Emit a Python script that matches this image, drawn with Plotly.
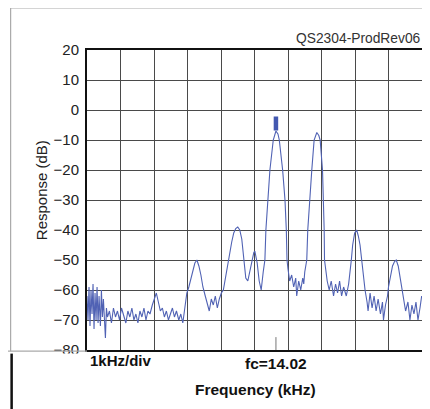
"""Spectrum plot: two-tone response around fc = 14.02 kHz, 1 kHz/div."""

import plotly.graph_objects as go

FREQ_KHZ = [
    8.38, 8.41, 8.44, 8.47, 8.50, 8.53, 8.56, 8.59, 8.62, 8.65, 8.68, 8.71,
    8.74, 8.78, 8.81, 8.84, 8.87, 8.90, 8.93, 8.96, 8.99, 9.05, 9.11, 9.17,
    9.23, 9.29, 9.35, 9.41, 9.47, 9.54, 9.60, 9.66, 9.72, 9.78, 9.84, 9.90,
    9.96, 10.02, 10.08, 10.14, 10.20, 10.26, 10.33, 10.39, 10.45, 10.51,
    10.57, 10.63, 10.69, 10.75, 10.81, 10.87, 10.93, 10.99, 11.05, 11.12,
    11.18, 11.24, 11.30, 11.36, 11.42, 11.48, 11.54, 11.60, 11.66, 11.72,
    11.78, 11.84, 11.91, 11.97, 12.03, 12.09, 12.15, 12.21, 12.27, 12.33,
    12.39, 12.45, 12.51, 12.57, 12.63, 12.70, 12.76, 12.82, 12.88, 12.94,
    13.00, 13.06, 13.12, 13.18, 13.24, 13.30, 13.36, 13.39, 13.46, 13.52,
    13.58, 13.64, 13.69, 13.72, 13.77, 13.84, 13.94, 13.97, 14.02, 14.08,
    14.12, 14.22, 14.29, 14.33, 14.35, 14.38, 14.43, 14.49, 14.55, 14.61,
    14.64, 14.70, 14.76, 14.82, 14.85, 14.88, 14.94, 14.97, 15.02, 15.09,
    15.16, 15.19, 15.24, 15.30, 15.34, 15.41, 15.44, 15.46, 15.47, 15.52,
    15.55, 15.61, 15.67, 15.74, 15.80, 15.86, 15.92, 15.98, 16.04, 16.12,
    16.19, 16.27, 16.31, 16.37, 16.43, 16.48, 16.53, 16.59, 16.63, 16.68,
    16.74, 16.77, 16.83, 16.89, 16.95, 17.01, 17.07, 17.14, 17.20, 17.23,
    17.29, 17.35, 17.38, 17.44, 17.50, 17.56, 17.61, 17.67, 17.71, 17.77,
    17.83, 17.89, 17.96, 18.02, 18.08, 18.14, 18.20, 18.26, 18.32, 18.37,
]
RESPONSE_DB = [
    -62, -70, -59, -72, -60, -68, -58, -73, -61, -70, -59, -71,
    -62, -72, -60, -69, -63, -71, -76, -66, -69, -67, -71, -66,
    -69, -67, -70, -66, -68, -71, -67, -69, -66, -70, -68, -71,
    -67, -69, -66, -70, -67, -68, -65, -63, -61, -64,
    -67, -66, -69, -67, -70, -68, -66, -69, -67, -70,
    -68, -71, -66, -61, -59, -56, -53, -51, -50, -52,
    -55, -59, -62, -65, -67, -63, -65, -62, -66, -63,
    -61, -60, -56, -52, -49, -44, -41, -39.5, -39, -40,
    -43, -50, -56, -57, -54, -50, -47.5, -47, -51, -57,
    -60, -54, -50, -40, -30, -20, -10, -8.5, -7, -8,
    -10, -20, -30, -40, -50, -53, -57, -55, -59, -56,
    -62, -57, -60, -56, -58, -54, -50, -40, -30, -20,
    -10, -8.7, -7.5, -8.5, -10, -20, -30, -40, -50, -55,
    -57, -60, -57, -62, -58, -61, -57, -62, -59, -62,
    -58, -50, -45, -41, -40, -42, -45, -51, -56, -60,
    -64, -67, -61, -66, -62, -67, -63, -68, -64, -70,
    -65, -62, -59, -55, -52, -50.5, -50, -52, -55, -59,
    -63, -67, -64, -70, -65, -68, -64, -70, -66, -62,
]

FC_KHZ = 14.02
MARKER_DB = -4.5
FC_TICK_DB = [-80, -75.7]

X_RANGE = [8.38, 18.38]
Y_TICKS = [20, 10, 0, -10, -20, -30, -40, -50, -60, -70, -80]
Y_TICK_TEXT = ["20", "10", "0", "−10", "−20", "−30", "−40", "−50", "−60", "−70", "−80"]

TRACE_BLUE = "#5062b4"
GRID = "#4a4a4a"
FONT = "Liberation Sans, Arial, sans-serif"

fig = go.Figure()
fig.add_trace(
    go.Scatter(
        x=FREQ_KHZ,
        y=RESPONSE_DB,
        mode="lines",
        line={"color": TRACE_BLUE, "width": 1.1},
        hoverinfo="skip",
    )
)
fig.add_trace(
    go.Scatter(
        x=[FC_KHZ],
        y=[MARKER_DB],
        mode="markers",
        marker={"symbol": "line-ns", "size": 10, "line": {"width": 4.5, "color": "#4358b0"}},
        hoverinfo="skip",
    )
)
fig.add_trace(
    go.Scatter(
        x=[FC_KHZ, FC_KHZ],
        y=FC_TICK_DB,
        mode="lines",
        line={"color": "#777777", "width": 1},
        hoverinfo="skip",
    )
)

# the page body adds an 8 px offset, so the figure is 8 px smaller than the window
fig.update_layout(
    width=422,
    height=401,
    margin={"l": 79, "r": 6, "t": 42, "b": 59},
    paper_bgcolor="white",
    plot_bgcolor="white",
    showlegend=False,
    font={"family": FONT, "color": "#222222"},
)
fig.update_xaxes(
    range=X_RANGE,
    tick0=X_RANGE[0],
    dtick=1,
    showticklabels=False,
    ticks="",
    showgrid=True,
    gridcolor=GRID,
    gridwidth=1,
    zeroline=False,
    showline=True,
    linecolor="#111111",
    linewidth=2,
    mirror=True,
)
fig.update_yaxes(
    range=[-80, 20],
    tickvals=Y_TICKS,
    ticktext=Y_TICK_TEXT,
    tickfont={"size": 15, "color": "#222222"},
    ticks="",
    ticklabelstandoff=3,
    showgrid=True,
    gridcolor=GRID,
    gridwidth=1,
    zeroline=False,
    showline=True,
    linecolor="#111111",
    linewidth=2,
    mirror=True,
)

# scan artefacts: faint grey frame, cut-off strip and black edge below the plot
fig.add_shape(type="line", xref="paper", yref="paper", x0=-0.228, x1=1.1, y0=1.14, y1=1.14,
              line={"color": "#aaaaaa", "width": 1.2})
fig.add_shape(type="line", xref="paper", yref="paper", x0=-0.228, x1=-0.228, y0=1.14, y1=-0.004,
              line={"color": "#aaaaaa", "width": 1.2})
fig.add_shape(type="rect", xref="paper", yref="paper", x0=-0.3, x1=-0.003, y0=-0.012, y1=-0.25,
              fillcolor="white", line={"width": 0}, layer="above")
fig.add_shape(type="line", xref="paper", yref="paper", x0=-0.3, x1=0, y0=-0.004, y1=-0.004,
              line={"color": "#aaaaaa", "width": 1.2}, layer="above")
fig.add_shape(type="line", xref="paper", yref="paper", x0=-0.225, x1=-0.225, y0=-0.012, y1=-0.25,
              line={"color": "#111111", "width": 2.5}, layer="above")

fig.add_annotation(text="QS2304-ProdRev06", xref="paper", yref="paper", x=1.003, y=1.037,
                   xanchor="right", yanchor="middle", showarrow=False,
                   font={"size": 13.8, "color": "#333333"})
fig.add_annotation(text="Response (dB)", xref="paper", yref="paper", x=-0.137, y=0.533,
                   textangle=-90, xanchor="center", yanchor="middle", showarrow=False,
                   font={"size": 15, "color": "#222222"})
fig.add_annotation(text="<b>1kHz/div</b>", xref="paper", yref="paper", x=0.004, y=-0.035,
                   xanchor="left", yanchor="middle", showarrow=False,
                   font={"size": 15, "color": "#111111"})
fig.add_annotation(text="<b>fc=14.02</b>", xref="x", yref="paper", x=FC_KHZ, y=-0.045,
                   xanchor="center", yanchor="middle", showarrow=False,
                   font={"size": 15.5, "color": "#111111"})
fig.add_annotation(text="<b>Frequency (kHz)</b>", xref="paper", yref="paper", x=0.502, y=-0.133,
                   xanchor="center", yanchor="middle", showarrow=False,
                   font={"size": 15.5, "color": "#111111"})

fig.write_html("out.html")
